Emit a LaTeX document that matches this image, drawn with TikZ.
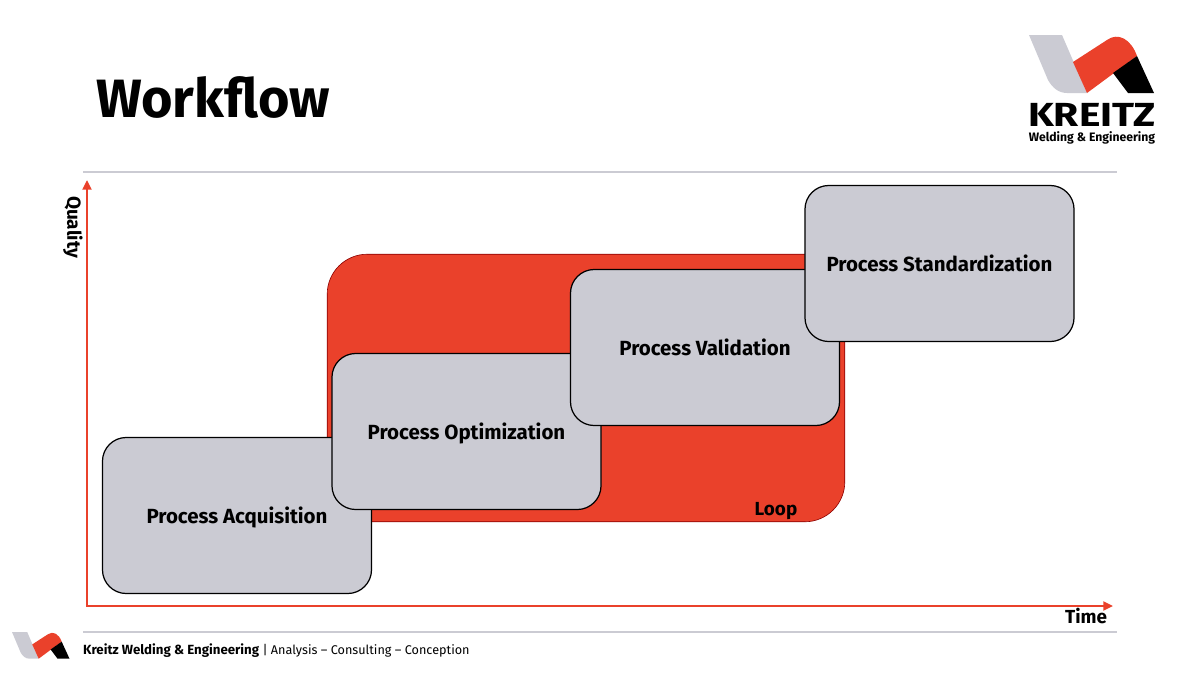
\documentclass[tikz,border=0pt]{standalone}
\usepackage{fontspec}
\setmainfont{Fira Sans}
\usepackage{xcolor}
\usetikzlibrary{arrows.meta,positioning,calc}
\definecolor{kzred}{HTML}{EA412B}
\definecolor{kzgray}{HTML}{CBCBD3}

\begin{document}
\begin{tikzpicture}[x=0.04cm,y=-0.04cm,>={Triangle[length=11pt,width=10pt]},
  stepbox/.style={draw=black,line width=1.4pt,rounded corners=0.95cm,fill=kzgray,
                  minimum width=10.76cm,minimum height=6.24cm,align=center,text depth=0pt,
                  font=\fontsize{23.3}{27}\selectfont\bfseries,inner sep=0pt},
  loopbox/.style={draw=red!55!black,line width=0.7pt,rounded corners=1.6cm,fill=kzred,
                  minimum width=20.7cm,minimum height=10.7cm,inner sep=0pt},
  axis/.style={draw=kzred,line width=3.2pt},
  rule/.style={draw=kzgray,line width=2.2pt},
  axlab/.style={font=\fontsize{21.5}{25}\selectfont\bfseries,inner sep=0pt},
  logo/.pic={
    \fill[kzgray] (0,0) -- (33,0) -- (58,58) -- (38,58) .. controls (29,58) and (23,52) .. (19,45) -- cycle;
    \fill[kzred] (44,27) -- (78,5) .. controls (89,-3) and (102,4) .. (108,21) -- (58,58) -- cycle;
    \fill[black] (84,38) -- (108,21) -- (125,58) -- (99,58) -- cycle;
  }]
  \useasboundingbox (0,0) rectangle (1200,675);
  \fill[white] (0,0) rectangle (1200,675);

  % ---------- header ----------
  \node[anchor=west,font=\fontsize{61.4}{63}\selectfont\bfseries,inner sep=0pt] (title) at (96,97) {Workflow};
  \pic at (1029,35) {logo};
  \node[font=\fontsize{38}{40}\selectfont\bfseries,inner sep=0pt] (brand) at (1092,115) {\scalebox{1.22}[1]{KREITZ}};
  \node[font=\fontsize{13.9}{15}\selectfont\bfseries,inner sep=0pt] (sub) at (1092,138) {Welding \& Engineering};
  \coordinate (topl) at (83,172);
  \coordinate (topr) at (1117,172);
  \draw[rule] (topl) -- (topr);

  % ---------- loop and steps ----------
  \node[loopbox] (loop) at (586,388) {};
  \node[axlab,anchor=center] (looplab) at (776,511) {Loop};
  \node[stepbox] (acq) at (237,515.5) {Process Acquisition};
  \node[stepbox] (opt) at ($(acq)+(229.5,-84)$) {Process Optimization};
  \node[stepbox] (val) at ($(opt)+(238.5,-84)$) {Process Validation};
  \node[stepbox] (std) at ($(val)+(234.5,-84)$) {Process Standardization};

  % ---------- axes ----------
  \coordinate (qual) at (87,180);
  \coordinate (tim) at (1113,606);
  \draw[axis,<->] (qual) |- (tim);
  \node[axlab,rotate=-90] (qlab) at (73,227) {Quality};
  \node[axlab] (tlab) at (1086,616) {Time};

  % ---------- footer ----------
  \coordinate (botl) at (83,632);
  \coordinate (botr) at (1117,632);
  \draw[rule] (botl) -- (botr);
  \pic[scale=0.46] at (12,632) {logo};
  \node[anchor=west,font=\fontsize{14.4}{16}\selectfont,inner sep=0pt] (foot) at (83,651)
    {{\fontsize{15.1}{16}\selectfont\bfseries Kreitz Welding \& Engineering} | Analysis – Consulting – Conception};
\end{tikzpicture}
\end{document}
